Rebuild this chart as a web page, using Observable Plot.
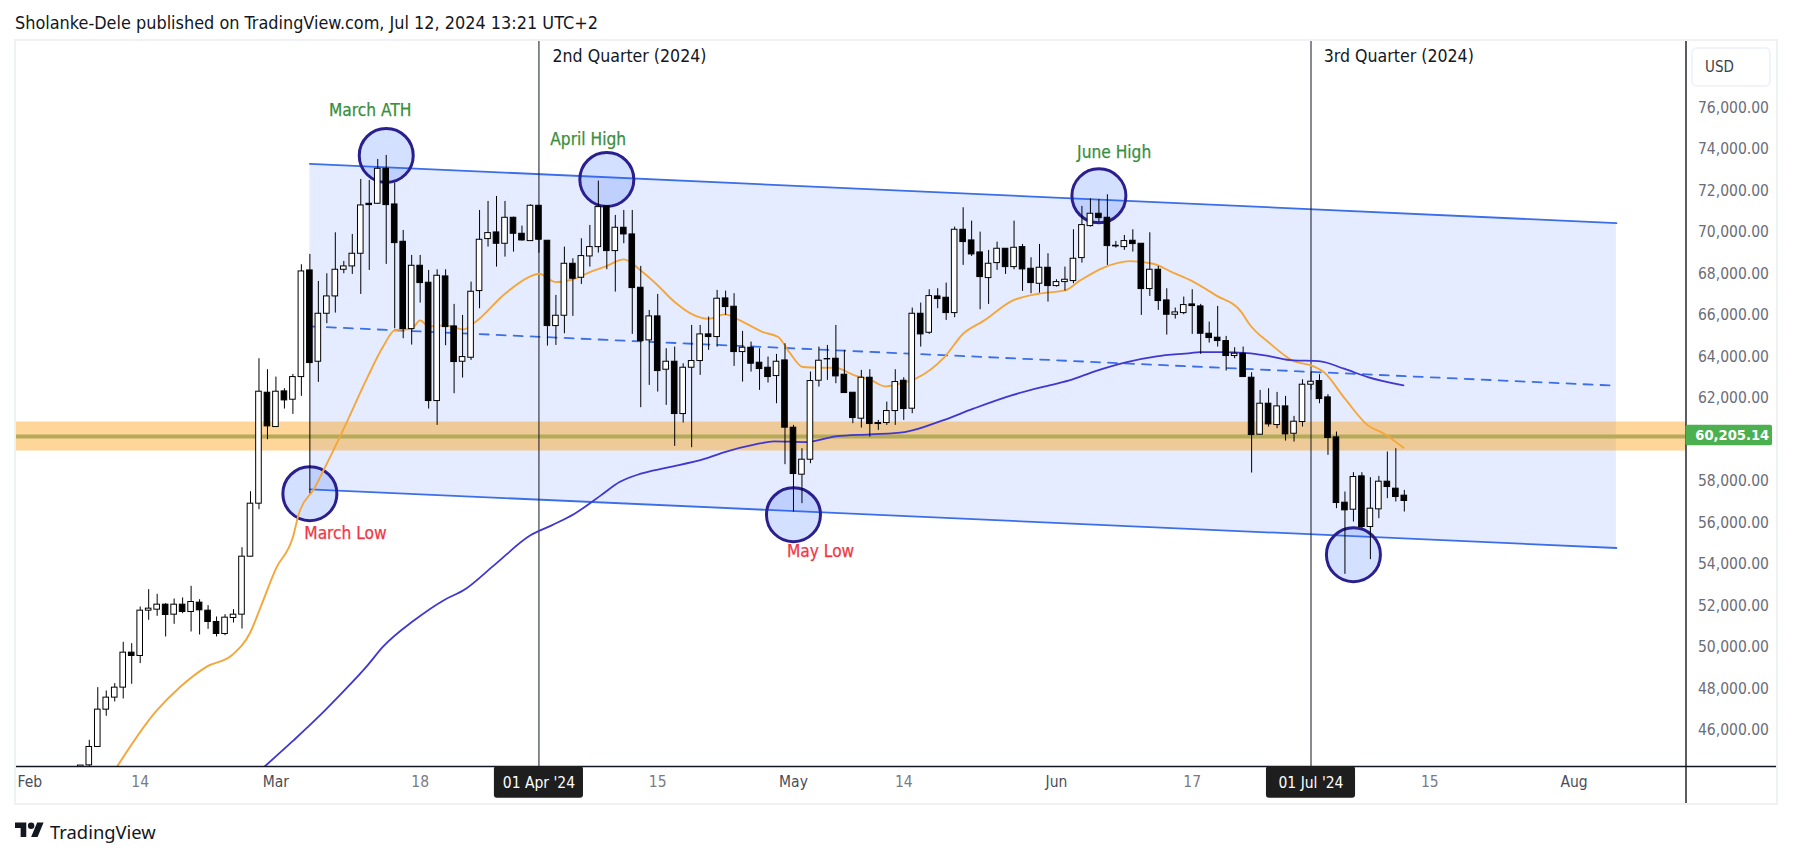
<!DOCTYPE html>
<html><head><meta charset="utf-8">
<script src="https://cdn.jsdelivr.net/npm/d3@7"></script>
<script src="https://cdn.jsdelivr.net/npm/@observablehq/plot@0.6"></script>
<style>
html,body{margin:0;padding:0;background:#fff;overflow:hidden}
body{width:1793px;height:858px;position:relative;font-family:"DejaVu Sans Condensed","DejaVu Sans",sans-serif}
#head{height:40px;line-height:46px;padding-left:15px;font-size:17.9px;color:#131722;white-space:nowrap;box-sizing:border-box}
#foot{height:52px;position:relative;color:#131722}
#foot svg{position:absolute;left:15px;top:14px}
#foot span{position:absolute;left:50px;top:13px;font-family:"Noto Sans",sans-serif;font-size:18.4px;line-height:28px}
#frame{position:absolute;left:14px;top:39px;width:1760px;height:762px;border:2px solid #f0f1f4;pointer-events:none}
#usd{position:absolute;left:1691px;top:47px;height:36px;border:2px solid #f0f3fa;border-radius:6px;background:#fff;font-size:15px;line-height:36px;color:#3c3f4a;padding-left:12px;width:64px}
</style></head>
<body>
<div id="head">Sholanke-Dele published on TradingView.com, Jul 12, 2024 13:21 UTC+2</div>
<div id="plot"></div>
<div id="foot"><svg width="29" height="23" viewBox="0 0 36 28" fill="#131722"><path d="M14 22H7V11H0V4h14v18zM28 22h-8l7.5-18h8L28 22z"/><circle cx="20" cy="8" r="4"/></svg><span>TradingView</span></div>
<div id="frame"></div>
<div id="usd">USD</div>
<script>
// Daily candles, first one is day 6 counted from 1 Feb 2024
const firstCandleDay = 6;
const candleOpen = [43100,44300,45187,46987,47566,48048,49735,49575,51760,51808,52049,51567,52049,51696,52146,51760,51214,50635,51407,51567,54363,56919,62270,60615,62334,61932,63024,68167,63764,66078,66914,68199,68360,68971,71382,71382,73069,71349,69549,65339,68392,67573,61868,67878,65468,63764,63957,67171,69678,69999,69453,70706,69935,69581,71285,69598,65483,65982,68488,67814,68842,69292,71253,69100,70225,69903,67332,64793,65950,63379,63764,61241,63475,63797,65082,64954,66818,66416,64230,64439,63716,63475,63073,63828,60583,58317,59040,62848,63893,63909,63138,62269,61017,62993,60760,60808,61386,62848,61499,66078,65162,66914,66850,66110,70128,69614,69035,67798,68521,69212,68328,69292,68248,67525,68296,67412,67605,67654,68762,70305,70900,70707,69357,69292,69598,69453,67268,68200,66721,66030,66110,66528,66432,65114,64922,64761,64038,64150,62993,60245,61740,60711,61611,60292,60856,62656,62832,62045,60116,56967,56629,58236,55794,56646,57979,57642,57305];
const candleHigh = [44287,45509,48048,47887,48241,50233,50169,51937,52773,52548,52098,52322,52371,52933,52290,52001,51455,51567,51808,54797,57497,63909,63379,63024,62463,63153,68441,68939,67637,68007,69983,68601,69903,72554,72506,73519,73711,72378,70096,68890,68890,68167,68199,68199,66528,65998,67605,71060,71494,71735,71494,70738,70304,71333,71285,69614,66962,69292,68730,69694,70337,72474,71300,70819,71060,71060,68360,66239,67010,64391,64471,63668,65516,65516,65918,67203,67171,67043,65227,64713,64391,63989,64118,64632,60695,59570,63266,64471,64552,65516,64311,62269,63346,63378,60936,61820,63378,62993,66352,66593,67235,67284,67557,70257,71189,70546,70016,69132,69534,69212,70546,69421,68778,69421,68971,67718,68328,70128,71253,71623,71591,71815,69566,69855,70128,69453,69984,68360,67284,66352,66882,67236,66529,65677,66432,64986,64440,64472,63234,62382,62463,62286,62093,61129,62896,63266,63138,62174,60374,57481,58413,58413,58172,58236,59410,59570,57561];
const candleLow = [42800,44200,45187,46666,47357,47502,48209,49205,51294,51487,50491,51101,51615,50732,50587,50860,50491,50555,51165,50876,54347,56629,60004,60615,61482,61226,62093,57401,62768,65596,66110,68007,67975,67010,68167,71349,68457,65355,64873,64567,66592,61482,60695,64535,62221,62977,63828,66319,69292,68328,68810,69051,69581,69581,69000,64519,64551,65114,65950,67492,68328,69003,68200,67123,69453,65082,61547,62623,62302,61659,59683,60808,59618,63105,64311,64471,65998,63539,62784,63266,62382,62736,61739,58799,56517,56919,58847,62543,62864,62703,62253,60775,60567,60133,60454,60695,60695,60936,61258,64471,65082,66320,65757,65886,68409,68842,66271,66528,68168,67975,68200,67155,67043,67075,66641,67364,67171,67525,68521,70257,70498,68409,69245,69132,69051,65998,66914,66239,65050,65821,66030,65082,64118,64665,64471,63314,63909,63025,58397,60245,60615,60534,59939,59892,60615,62400,61739,59249,56678,53512,56035,55714,54219,56196,57159,57000,56517];
const candleClose = [44290,45187,46987,47566,48048,49735,49575,51760,51857,52049,51551,52049,51696,52178,51776,51214,50635,51423,51567,54363,56919,62318,60647,62318,61900,63024,68119,63700,66078,66914,68199,68360,68971,71301,71317,73069,71317,69485,65339,68392,67557,61868,67910,65435,63748,63989,67139,69646,69967,69453,70706,69935,69613,71285,69646,65483,65982,68488,67766,68858,69292,71221,69100,70225,69903,67316,64761,65950,63314,63764,61241,63475,63797,65082,64954,66802,66400,64230,64439,63668,63411,63025,63764,60583,58349,59040,62832,63813,63877,63057,62253,61049,62993,60760,60808,61386,62784,61483,66078,65082,66930,66786,66110,70128,69534,68939,67846,68489,69212,68328,69260,68216,67557,68296,67412,67605,67718,68730,70353,70900,70691,69341,69325,69582,69437,67268,68200,66690,66030,66143,66496,66448,65114,64906,64761,64038,64150,63025,60229,61740,60743,61611,60261,60872,62656,62800,61964,60084,56950,56597,58204,55794,56677,57979,57722,57240,57048];

// Moving averages, read by eye as (day, price)
const orangeDay = [10.3,14.8,17.7,20.9,23.8,26,27.2,29,31,31.7,33.5,34.9,36.9,39.8,41.6,43,45,46,47,48.9,51.1,52.5,56,58.8,60,62,64.2,66,67.9,70,72,73.8,76,77.8,80,81.9,83.7,86.4,88.2,89.5,91.1,93.1,94.9,97.2,99.2,100.8,102.2,104.4,107.8,110,112.5,115.7,118.9,122,123.8,126.5,129.7,132.4,134.6,137,139.8,142.8,143.7,146.2,148.8,151.3,152.5,155,157.7,159.6,161.9];
const orangePrice = [44256,46875,48080,49076,49607,50732,51937,53785,55312,56436,57642,58767,60454,63024,64471,65275,65355,65757,65468,65516,65323,65676,67042,67846,68007,67605,67766,68087,68360,68698,68168,67525,66641,66110,65837,66046,65757,65195,64954,64230,63507,63475,63475,63105,62864,62575,62672,62945,63989,65114,65757,66689,67043,67203,67686,68296,68618,68489,68087,67653,66962,66159,65596,64632,63829,63540,63266,61981,60695,60293,59618];
const blueDay = [27.7,31,34,36.7,39.8,41.6,45.3,48.9,51.1,54.7,59,61.5,64.2,67.3,69.5,72,75.1,79.6,81.9,85.5,87.7,91.4,95,99,103.1,107.6,111.2,115.7,119.3,122.5,125.6,129.3,132.8,136.8,137.9,140.5,143.5,146.2,148.9,151.9,154.9,157.7,161.9];
const bluePrice = [44256,45477,46634,47759,49125,50009,51294,52290,52740,53946,55392,55874,56437,57320,57963,58365,58654,59088,59409,59779,59924,59892,60165,60261,60374,60936,61499,62141,62543,62864,63314,63748,64022,64182,64230,64230,64182,64022,63829,63797,63427,63025,62623];

// Regression channel
const channelDay = [33,187];
const channelTop = [73310,70450];
const channelMid = [65468,62607];
const channelBottom = [57610,54781];

// Support zone and last price
const zoneLow = 59458, zoneHigh = 60856, lastPrice = 60205.14;

// Highlighted swing circles
const circleDay = [42,33,68,90,126,156];
const circlePrice = [73711,57401,72555,56388,71767,54460];

// Annotations
const noteText = ["March ATH","April High","June High","March Low","May Low"];
const noteDay = [40.1,65.8,127.8,37.2,93.2];
const notePrice = [75881,74467,73840,55472,54637];
const noteColor = ["#388e3c","#388e3c","#388e3c","#f23645","#f23645"];
const quarterText = ["2nd Quarter (2024)","3rd Quarter (2024)"];
const quarterLineDay = [60,151];
const quarterTextDay = [61.6,152.5];
const quarterBox = ["01 Apr '24","01 Jul '24"];

// Axes
const priceTicks = [46000,48000,50000,52000,54000,56000,58000,62000,64000,66000,68000,70000,72000,74000,76000];
const monthTickDay = [0,29,90,121,182];
const monthTickLabel = ["Feb","Mar","May","Jun","Aug"];
const dayTickDay = [13,46,74,103,137,165];
const dayTickLabel = ["14","18","15","14","17","15"];

const font = '"DejaVu Sans Condensed","DejaVu Sans",sans-serif';
const base = Date.UTC(2024,1,1);
const day = d => new Date(base + d*864e5);
const yMin = 44245, yMax = 79255, yLow = 42364;
const xMin = day(-1.697), xMax = day(195.2), xOuter = day(206.1);
const pts = (ds,vs) => ds.map((d,i)=>({x:day(d),y:vs[i]}));
const candles = candleOpen.map((o,i)=>({d:firstCandleDay+i,o,h:candleHigh[i],l:candleLow[i],c:candleClose[i]}));
const hw = 0.33;

const channelRows = channelDay.map((d,i)=>({x:day(d),top:channelTop[i],mid:channelMid[i],bot:channelBottom[i]}));

const chart = Plot.plot({
  width:1793,height:765,
  marginTop:0,marginBottom:39,marginLeft:15,marginRight:107.5,
  style:{background:"transparent",fontFamily:font,overflow:"visible"},
  x:{type:"utc",domain:[xMin,xMax],axis:null},
  y:{domain:[yMin,yMax],axis:null},
  marks:[
    // channel fill
    Plot.areaY(channelRows,{x:"x",y1:"bot",y2:"top",fill:"#2962ff",fillOpacity:0.12}),
    // support zone
    Plot.rect([0],{x1:xMin,x2:xMax,y1:zoneLow,y2:zoneHigh,fill:"#ff9800",fillOpacity:0.4}),
    Plot.ruleY([lastPrice],{stroke:"#b5a95a",strokeWidth:4,dy:1}),
    // channel lines
    Plot.lineY(channelRows,{x:"x",y:"top",stroke:"#3c6ee8",strokeWidth:1.8}),
    Plot.lineY(channelRows,{x:"x",y:"bot",stroke:"#3c6ee8",strokeWidth:1.8}),
    Plot.lineY(channelRows,{x:"x",y:"mid",stroke:"#3c6ee8",strokeWidth:1.8,strokeDasharray:"9,8"}),
    // circles
    Plot.dot(pts(circleDay,circlePrice),{x:"x",y:"y",r:27,fill:"#2962ff",fillOpacity:0.2,stroke:"#2a1f8f",strokeWidth:3}),
    // quarter lines
    Plot.ruleX(quarterLineDay,{x:d=>day(d),y1:yMin,y2:yMax,stroke:"#131722",strokeWidth:1}),
    // moving averages
    Plot.lineY(pts(orangeDay,orangePrice),{x:"x",y:"y",stroke:"#f5a63b",strokeWidth:1.9,clip:true,curve:"monotone-x"}),
    Plot.lineY(pts(blueDay,bluePrice),{x:"x",y:"y",stroke:"#3f37cf",strokeWidth:1.8,clip:true,curve:"monotone-x"}),
    // candles
    Plot.ruleX(candles,{x:r=>day(r.d),y1:"l",y2:"h",stroke:"#000",strokeWidth:1,clip:true}),
    Plot.rect(candles,{x1:r=>day(r.d-hw),x2:r=>day(r.d+hw),y1:"o",y2:"c",fill:r=>r.c>=r.o?"#fff":"#000",stroke:"#000",strokeWidth:1,clip:true}),
    // annotations
    Plot.text(noteText,{x:(t,i)=>day(noteDay[i]),y:(t,i)=>notePrice[i],text:t=>t,fill:(t,i)=>noteColor[i],fontSize:17.2,fontWeight:500,stroke:(t,i)=>noteColor[i],strokeWidth:0.25}),
    Plot.text(quarterText,{x:(t,i)=>day(quarterTextDay[i]),y:78484,text:t=>t,textAnchor:"start",fill:"#131722",fontSize:17.6}),
    // frame lines
    Plot.ruleY([yMin],{x1:xMin,x2:xOuter,stroke:"#131722",strokeWidth:1.4}),
    Plot.ruleX([xMax],{y1:yLow,y2:yMax,stroke:"#131722",strokeWidth:1.4}),
    // axes
    Plot.axisY({anchor:"right",ticks:priceTicks,tickSize:0,tickPadding:12,tickFormat:d3.format(",.2f"),label:null,fill:"#6a6d78",fontSize:15.5}),
    Plot.axisX({anchor:"bottom",ticks:monthTickDay.map(day),tickSize:0,tickPadding:9,tickFormat:(d,i)=>monthTickLabel[i],label:null,fill:"#4a4d58",fontSize:15.5}),
    Plot.axisX({anchor:"bottom",ticks:dayTickDay.map(day),tickSize:0,tickPadding:9,tickFormat:(d,i)=>dayTickLabel[i],label:null,fill:"#787b86",fontSize:15.5}),
    // date flags
    Plot.rect(quarterLineDay,{x1:d=>day(d-5.25),x2:d=>day(d+5.25),y1:yMin,y2:yMin-1530,fill:"#1e1e1e",rx:3}),
    Plot.text(quarterBox,{x:(t,i)=>day(quarterLineDay[i]),y:yMin-800,text:t=>t,fill:"#fff",fontSize:15.5}),
    // last price flag
    Plot.rect([lastPrice],{x1:xMax,x2:day(205.4),y1:d=>d+490,y2:d=>d-490,fill:"#4caf50",rx:2}),
    Plot.text([lastPrice],{x:day(196.3),y:d=>d,text:d3.format(",.2f"),textAnchor:"start",fill:"#fff",fontSize:14.6,fontWeight:600})
  ]
});
document.getElementById("plot").appendChild(chart);
</script>
</body></html>
